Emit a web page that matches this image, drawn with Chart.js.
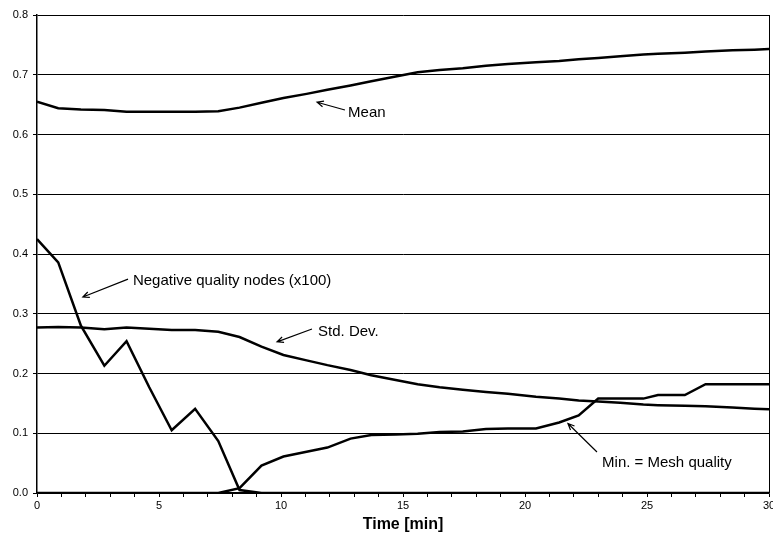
<!DOCTYPE html>
<html>
<head>
<meta charset="utf-8">
<script src="https://cdn.jsdelivr.net/npm/chart.js@4/dist/chart.umd.min.js"></script>
<style>
  html, body { margin: 0; padding: 0; background: #fff; }
  #wrap { width: 773px; height: 534px; }
</style>
</head>
<body>
<div id="wrap"><canvas id="chart"></canvas></div>
<script>
// ─── Datos ────────────────────────────────────────────────────────────────
const timeMin = [0, 0.87, 1.8, 2.76, 3.67, 4.6, 5.52, 6.48, 7.43, 8.3, 9.2, 10.1, 11.05, 11.9,
  12.85, 13.7, 14.7, 15.6, 16.5, 17.45, 18.4, 19.3, 20.45, 21.4, 22.2, 23.0, 23.9, 24.85,
  25.45, 26.55, 27.4, 28.5, 29.4, 30];

const meanQuality = [0.655, 0.644, 0.642, 0.641, 0.638, 0.638, 0.638, 0.638, 0.639, 0.645,
  0.653, 0.661, 0.668, 0.675, 0.682, 0.689, 0.697, 0.704, 0.708, 0.711, 0.715, 0.718, 0.721,
  0.723, 0.726, 0.728, 0.731, 0.734, 0.735, 0.737, 0.739, 0.741, 0.742, 0.743];

const stdDev = [0.277, 0.278, 0.277, 0.274, 0.277, 0.275, 0.273, 0.273, 0.270, 0.261, 0.245,
  0.231, 0.222, 0.214, 0.206, 0.197, 0.189, 0.182, 0.177, 0.173, 0.169, 0.166, 0.161, 0.158,
  0.155, 0.153, 0.151, 0.148, 0.147, 0.146, 0.145, 0.143, 0.141, 0.140];

const negativeNodes = [0.425, 0.386, 0.280, 0.213, 0.254, 0.177, 0.105, 0.141, 0.087, 0.005,
  0, 0, 0, 0, 0, 0, 0, 0, 0, 0, 0, 0, 0, 0, 0, 0, 0, 0, 0, 0, 0, 0, 0, 0];

const minQuality = [0, 0, 0, 0, 0, 0, 0, 0, 0, 0.008, 0.046, 0.061, 0.069, 0.076, 0.091, 0.097,
  0.098, 0.099, 0.102, 0.103, 0.107, 0.108, 0.108, 0.118, 0.130, 0.158, 0.158, 0.158, 0.164,
  0.164, 0.182, 0.182, 0.182, 0.182];

const seriesLabels = ['Mean', 'Std. Dev.', 'Negative quality nodes (x100)', 'Min. = Mesh quality'];

// Rótulos con flecha (coordenadas en unidades de datos)
const callouts = [
  { text: 'Mean', at: [12.75, 0.636], tail: [12.62, 0.641], head: [11.48, 0.654] },
  { text: 'Negative quality nodes (x100)', at: [3.93, 0.355], tail: [3.73, 0.358], head: [1.88, 0.328] },
  { text: 'Std. Dev.', at: [11.52, 0.270], tail: [11.27, 0.2745], head: [9.84, 0.253] },
  { text: 'Min. = Mesh quality', at: [23.16, 0.050], tail: [22.95, 0.0686], head: [21.76, 0.1163] },
];

const FONT = "'Liberation Sans', Arial, sans-serif";

// ─── Plugins ──────────────────────────────────────────────────────────────
const frameAndCallouts = {
  id: 'frameAndCallouts',
  afterDatasetsDraw(chart) {
    const { ctx, chartArea, scales } = chart;
    ctx.save();
    // borde derecho
    ctx.strokeStyle = '#000';
    ctx.lineWidth = 1;
    ctx.beginPath();
    ctx.moveTo(Math.round(chartArea.right) + 0.5, chartArea.top);
    ctx.lineTo(Math.round(chartArea.right) + 0.5, chartArea.bottom);
    ctx.stroke();

    ctx.font = '15px ' + FONT;
    ctx.fillStyle = '#000';
    ctx.textBaseline = 'middle';
    ctx.textAlign = 'left';
    for (const c of callouts) {
      const tx = scales.x.getPixelForValue(c.tail[0]);
      const ty = scales.y.getPixelForValue(c.tail[1]);
      const hx = scales.x.getPixelForValue(c.head[0]);
      const hy = scales.y.getPixelForValue(c.head[1]);
      ctx.lineWidth = 1.2;
      ctx.beginPath();
      ctx.moveTo(tx, ty);
      ctx.lineTo(hx, hy);
      const ang = Math.atan2(hy - ty, hx - tx);
      const len = 7, spread = 0.42;
      ctx.moveTo(hx - len * Math.cos(ang - spread), hy - len * Math.sin(ang - spread));
      ctx.lineTo(hx, hy);
      ctx.lineTo(hx - len * Math.cos(ang + spread), hy - len * Math.sin(ang + spread));
      ctx.stroke();
      ctx.fillText(c.text, scales.x.getPixelForValue(c.at[0]), scales.y.getPixelForValue(c.at[1]));
    }
    ctx.restore();
  }
};

// ─── Gráfica ──────────────────────────────────────────────────────────────
const lineStyle = { borderColor: '#000', borderWidth: 2.5, pointRadius: 0, tension: 0, fill: false };
const toPoints = arr => arr.map((v, i) => ({ x: timeMin[i], y: v }));

new Chart(document.getElementById('chart'), {
  type: 'line',
  data: {
    datasets: [
      { label: seriesLabels[0], data: toPoints(meanQuality), ...lineStyle },
      { label: seriesLabels[1], data: toPoints(stdDev), ...lineStyle },
      { label: seriesLabels[2], data: toPoints(negativeNodes), ...lineStyle },
      { label: seriesLabels[3], data: toPoints(minQuality), ...lineStyle },
    ],
  },
  options: {
    responsive: true,
    maintainAspectRatio: false,
    animation: false,
    layout: { padding: { top: 15, right: 4, left: 0, bottom: 0 } },
    plugins: { legend: { display: false }, tooltip: { enabled: false } },
    scales: {
      x: {
        type: 'linear',
        min: 0, max: 30,
        afterFit: s => { s.height = 41; s.paddingLeft = 0; s.paddingRight = 0; },
        ticks: {
          stepSize: 1,
          autoSkip: false,
          maxRotation: 0,
          padding: 2,
          color: '#000',
          font: { family: FONT, size: 11 },
          callback: v => (v % 5 === 0 ? String(v) : ''),
        },
        grid: { drawOnChartArea: false, drawTicks: true, tickLength: 4, color: '#000' },
        border: { color: '#000', width: 1.5 },
        title: {
          display: true, text: 'Time [min]', color: '#000',
          font: { family: FONT, size: 16, weight: 'bold' },
          padding: { top: 0, bottom: 0 },
        },
      },
      y: {
        min: 0, max: 0.8,
        afterFit: s => { s.width = 37; s.paddingTop = 0; s.paddingBottom = 0; },
        ticks: {
          stepSize: 0.1,
          padding: 5,
          color: '#000',
          font: { family: FONT, size: 11 },
          callback: v => v.toFixed(1),
        },
        grid: { color: '#000', lineWidth: 1, tickLength: 4 },
        border: { color: '#000', width: 1.5 },
      },
    },
  },
  plugins: [frameAndCallouts],
});
</script>
</body>
</html>
